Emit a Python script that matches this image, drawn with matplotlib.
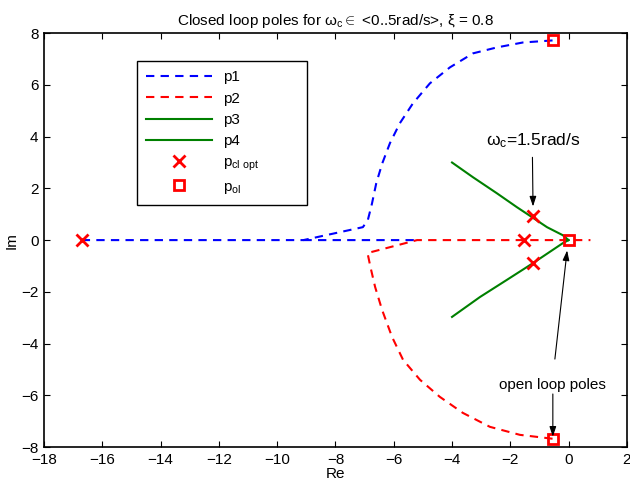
import numpy as np
import matplotlib
matplotlib.use('Agg')
import matplotlib.pyplot as plt

plt.rcParams['font.family'] = ['Liberation Sans', 'DejaVu Sans']
plt.rcParams['mathtext.fontset'] = 'custom'
plt.rcParams['mathtext.rm'] = 'Liberation Sans'
plt.rcParams['mathtext.it'] = 'Liberation Sans'

nan = np.nan

# closed loop pole trajectories
p1_re = [-0.55, -1.57, -2.46, -3.28, -4.07, -4.76, -5.34, -5.79, -6.13, -6.4, -6.6, -6.75, -6.89, -7.06, -9.1, -16.7, nan, -9.1, -5.2]
p1_im = [7.72, 7.64, 7.45, 7.22, 6.68, 6.06, 5.29, 4.52, 3.75, 2.95, 2.2, 1.4, 0.77, 0.5, 0.0, 0.0, nan, 0.0, 0.0]

p2_re = [-0.55, -1.67, -2.7, -3.63, -4.42, -5.1, -5.68, -6.06, -6.4, -6.64, -6.8, -6.9, -5.2, 0.75]
p2_im = [-7.68, -7.53, -7.22, -6.68, -6.06, -5.4, -4.63, -3.74, -2.7, -1.81, -1.04, -0.5, 0.0, 0.0]

p3_re = [0.0, -0.2, -0.74, -1.26, -1.77, -2.46, -3.28, -4.0]
p3_im = [0.0, 0.19, 0.5, 0.89, 1.27, 1.81, 2.43, 3.0]

p4_re = [0.0, -0.2, -1.22, -2.12, -3.04, -4.0]
p4_im = [0.0, -0.12, -0.89, -1.54, -2.2, -2.97]

# optimal closed loop poles (wc = 1.5 rad/s) and open loop poles
pcl_re = [-16.7, -1.53, -1.22, -1.22]
pcl_im = [0.0, 0.0, 0.92, -0.9]

pol_re = [-0.55, -0.55, 0.0]
pol_im = [7.72, -7.68, 0.0]

fig = plt.figure(figsize=(6.3, 4.88), dpi=100)
ax = fig.add_axes([0.070, 0.084, 0.925, 0.848])

ax.plot(p1_re, p1_im, color='#0000FF', linestyle='--', dashes=(4, 3), linewidth=1.5, label='p1')
ax.plot(p2_re, p2_im, color='#FF0000', linestyle='--', dashes=(4, 3), linewidth=1.5, label='p2')
ax.plot(p3_re, p3_im, color='#008000', linewidth=1.5, label='p3')
ax.plot(p4_re, p4_im, color='#008000', linewidth=1.5, label='p4')
ax.plot(pcl_re, pcl_im, 'x', color='#FF0000', markersize=9, markeredgewidth=2,
        label=r'p$_{\mathrm{cl\ opt}}$')
ax.plot(pol_re, pol_im, 's', color='#FF0000', markerfacecolor='none', markersize=7,
        markeredgewidth=2, label=r'p$_{\mathrm{ol}}$')

ax.set_xlim(-18, 2)
ax.set_ylim(-8, 8)
ax.set_xticks(np.arange(-18, 3, 2))
ax.set_yticks(np.arange(-8, 9, 2))
ax.tick_params(direction='in', top=True, right=True, length=4, width=0.8, labelsize=11, pad=4)
for s in ax.spines.values():
    s.set_linewidth(1.2)

ax.set_xlabel('Re', fontsize=11, labelpad=0)
ax.set_ylabel('Im', fontsize=11, labelpad=2)
ax.set_title(r'Closed loop poles for $\omega_\mathrm{c}\in$ <0..5rad/s>, $\xi$ = 0.8', fontsize=11, pad=6)

# annotations
ax.text(-1.2, 3.85, r'$\omega_\mathrm{c}$=1.5rad/s', fontsize=12.5, ha='center', va='center')
arrow = dict(arrowstyle='-|>,head_length=0.6,head_width=0.2', color='k', lw=0.8, shrinkA=0, shrinkB=0)
ax.annotate('', xy=(-1.22, 1.3), xytext=(-1.24, 3.2), arrowprops=arrow)
ax.text(-0.54, -5.6, 'open loop poles', fontsize=11, ha='center', va='center')
ax.annotate('', xy=(-0.05, -0.4), xytext=(-0.47, -4.6), arrowprops=arrow)
ax.annotate('', xy=(-0.54, -7.6), xytext=(-0.54, -5.95), arrowprops=arrow)

leg = ax.legend(loc='upper left', bbox_to_anchor=(0.1595, 0.0, 0.292, 0.932), mode='expand',
                fontsize=11, handlelength=4.3, labelspacing=0.47, borderpad=0.6, handletextpad=0.7,
                borderaxespad=0, fancybox=False, framealpha=1, edgecolor='k')
leg.get_frame().set_linewidth(1.0)

fig.savefig('out.png', dpi=100, facecolor='white')
